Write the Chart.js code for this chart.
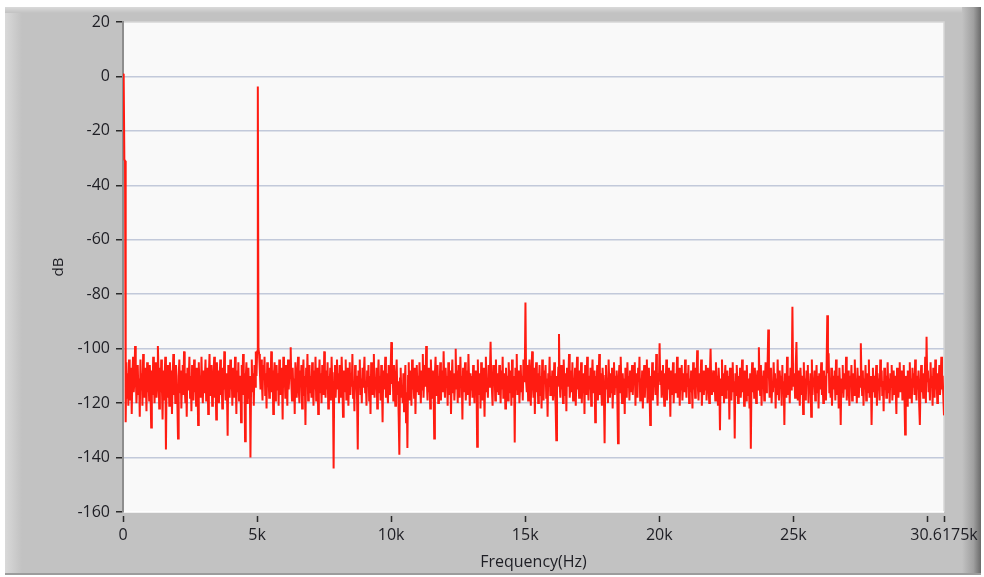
<!DOCTYPE html>
<html>
<head>
<meta charset="utf-8">
<script src="https://cdn.jsdelivr.net/npm/chart.js@4/dist/chart.umd.min.js"></script>
<style>
  html, body { margin: 0; padding: 0; background: #ffffff; }
  #wrap { position: relative; width: 984px; height: 577px; }
</style>
</head>
<body>
<div id="wrap"><canvas id="spectrum" width="984" height="577"></canvas></div>
<script>
// spectrum: span and bin spacing
const fMax = 30617.5;
const binCount = 1225;
const df = fMax / (binCount - 1);

// magnitude per bin, dB (40 bins per line = ~1 kHz)
const magnitudeDb = [
  1, 0.5, -30.5, -31, -127, -105, -118, -109, -121, -104, -113, -119, -107, -124, -110, -103, -116, -112, -99, -108, -120, -114, -106, -117, -111, -125, -104, -115, -109, -121, -102, -113, -118, -107, -112, -123, -105, -116, -110, -119,
  -106, -115, -129, -108, -117, -103, -112, -120, -110, -105, -118, -113, -99, -109, -122, -107, -116, -104, -114, -126, -108, -119, -111, -103, -137, -112, -106, -118, -110, -121, -105, -114, -108, -124, -111, -102, -117, -109, -120, -106,
  -113, -119, -133, -110, -104, -116, -108, -122, -112, -106, -117, -101, -114, -120, -109, -125, -107, -115, -111, -103, -118, -110, -123, -106, -113, -119, -104, -116, -109, -121, -107, -112, -128, -105, -115, -110, -118, -103, -114, -120,
  -108, -116, -111, -104, -119, -113, -107, -124, -110, -102, -117, -112, -106, -121, -115, -109, -103, -118, -111, -126, -105, -114, -108, -120, -112, -104, -117, -110, -122, -107, -115, -101, -113, -119, -109, -116, -132, -106, -112, -118,
  -104, -115, -109, -121, -107, -113, -118, -103, -111, -124, -108, -116, -105, -119, -112, -110, -127, -106, -114, -102, -117, -109, -134, -111, -105, -120, -113, -107, -118, -110, -140, -112, -104, -116, -109, -121, -106, -114, -101, -110,
  -101, -3.7, -100, -102, -108, -115, -104, -112, -119, -106, -111, -103, -117, -109, -122, -105, -114, -110, -118, -107, -113, -101, -116, -108, -124, -110, -105, -119, -112, -106, -115, -109, -121, -104, -113, -117, -107, -111, -126, -103,
  -114, -109, -118, -106, -112, -121, -104, -115, -110, -108, -99.5, -113, -119, -107, -116, -111, -124, -105, -112, -118, -109, -103, -115, -120, -108, -113, -106, -122, -111, -104, -117, -110, -128, -107, -114, -102, -119, -112, -106, -116,
  -110, -118, -105, -113, -121, -108, -115, -103, -119, -111, -107, -124, -112, -104, -116, -109, -120, -106, -113, -117, -101, -112, -118, -108, -115, -105, -122, -110, -114, -107, -119, -103, -113, -116, -144, -109, -106, -118, -111, -104,
  -115, -109, -120, -106, -113, -118, -103, -112, -125, -108, -116, -110, -104, -119, -113, -107, -121, -111, -105, -117, -109, -114, -102, -118, -112, -123, -106, -115, -110, -119, -137, -108, -113, -104, -117, -111, -120, -107, -114, -109,
  -103, -116, -112, -121, -108, -114, -106, -119, -110, -124, -105, -113, -117, -109, -102, -118, -111, -115, -107, -122, -112, -104, -116, -110, -119, -106, -113, -127, -108, -115, -111, -103, -118, -109, -114, -120, -106, -112, -117, -108,
  -97.6, -113, -108, -119, -106, -115, -121, -110, -104, -117, -112, -125, -139, -111, -107, -118, -114, -120, -109, -123, -113, -106, -127, -116, -136.5, -110, -105, -119, -113, -108, -121, -104, -115, -111, -118, -107, -124, -112, -106, -116,
  -110, -117, -105, -113, -120, -108, -115, -102, -118, -111, -106, -114, -99, -112, -119, -107, -116, -110, -122, -104, -113, -118, -108, -115, -133, -109, -103, -117, -112, -106, -120, -110, -114, -105, -119, -111, -108, -116, -101, -113,
  -118, -107, -114, -110, -121, -105, -112, -117, -108, -124, -111, -104, -116, -109, -119, -113, -100, -115, -108, -120, -106, -112, -118, -103, -114, -110, -126, -107, -116, -111, -105, -119, -113, -108, -117, -102, -112, -121, -109, -115,
  -110, -118, -106, -113, -120, -108, -115, -111, -136, -104, -117, -112, -109, -122, -105, -114, -119, -107, -113, -125, -110, -103, -116, -112, -118, -106, -114, -109, -97.5, -111, -115, -121, -106, -113, -108, -119, -104, -116, -111, -109,
  -117, -106, -113, -120, -108, -115, -103, -118, -111, -109, -122, -107, -114, -110, -119, -105, -112, -116, -108, -121, -104, -113, -118, -110, -134.5, -107, -115, -102, -117, -111, -108, -120, -113, -106, -116, -110, -119, -104, -112, -109,
  -83, -112, -116, -106, -119, -110, -104, -114, -121, -108, -101, -113, -118, -107, -124, -111, -105, -116, -109, -120, -113, -106, -117, -110, -122, -104, -115, -119, -108, -112, -106, -118, -111, -125, -109, -114, -103, -117, -110, -115,
  -108, -119, -112, -105, -116, -121, -133.6, -110, -114, -107, -94.6, -113, -118, -106, -115, -110, -120, -104, -112, -117, -109, -123, -107, -114, -111, -102, -118, -113, -108, -116, -105, -119, -111, -114, -107, -121, -110, -103, -115, -112,
  -118, -108, -114, -105, -120, -111, -116, -109, -124, -106, -113, -117, -103, -112, -119, -110, -115, -107, -121, -111, -104, -116, -113, -108, -127, -110, -114, -106, -119, -112, -102, -117, -109, -115, -121, -107, -112, -118, -134.7, -110,
  -106, -115, -111, -120, -104, -113, -118, -109, -116, -107, -122, -112, -105, -117, -110, -114, -108, -119, -134.7, -111, -106, -116, -103, -113, -120, -109, -115, -111, -124, -107, -113, -118, -105, -114, -110, -119, -108, -116, -112, -106,
  -117, -110, -113, -105, -121, -109, -115, -118, -107, -112, -103, -119, -111, -116, -108, -122, -113, -106, -118, -110, -114, -104, -120, -112, -107, -116, -128, -110, -115, -105, -119, -111, -113, -108, -117, -102, -114, -121, -109, -112,
  -98, -113, -108, -118, -111, -106, -116, -121, -109, -114, -104, -119, -112, -107, -115, -110, -125, -108, -117, -113, -105, -120, -111, -116, -109, -114, -103, -118, -112, -107, -121, -110, -115, -106, -119, -113, -109, -116, -104, -112,
  -118, -109, -114, -106, -120, -111, -116, -108, -113, -122, -105, -115, -110, -118, -107, -112, -100.6, -114, -119, -109, -116, -111, -104, -121, -113, -108, -117, -110, -115, -106, -119, -112, -107, -114, -120, -109, -100, -113, -117, -111,
  -108, -116, -112, -119, -105, -114, -110, -121, -107, -113, -130, -111, -117, -104, -115, -109, -120, -112, -106, -118, -113, -108, -115, -110, -126, -107, -114, -119, -111, -105, -116, -112, -133, -109, -117, -106, -113, -120, -110, -115,
  -107, -118, -112, -104, -116, -110, -121, -108, -114, -119, -106, -113, -117, -111, -122, -109, -136.8, -112, -105, -116, -110, -118, -107, -114, -120, -111, -108, -115, -99.5, -113, -117, -106, -121, -110, -114, -108, -119, -112, -105, -116,
  -111, -106, -93, -110, -118, -113, -107, -120, -112, -116, -105, -114, -109, -122, -111, -117, -104, -115, -119, -108, -113, -110, -121, -106, -116, -112, -128, -109, -114, -118, -103, -112, -117, -110, -120, -107, -115, -111, -84.6, -109,
  -114, -110, -118, -106, -97.6, -112, -119, -108, -115, -121, -107, -113, -117, -110, -124, -105, -116, -111, -119, -108, -113, -106, -120, -112, -115, -109, -125, -104, -117, -111, -114, -108, -119, -113, -106, -116, -110, -122, -109, -115,
  -111, -105, -117, -112, -120, -108, -114, -110, -119, -106, -87.7, -109, -101.7, -116, -113, -118, -107, -121, -112, -110, -115, -108, -119, -104, -114, -117, -110, -122, -107, -113, -128, -111, -116, -106, -118, -112, -109, -115, -103, -119,
  -112, -108, -116, -121, -110, -114, -106, -119, -113, -109, -117, -104, -115, -111, -120, -107, -113, -118, -110, -114, -98, -112, -117, -108, -121, -111, -115, -106, -119, -113, -109, -116, -104, -118, -112, -110, -128, -114, -107, -116,
  -110, -118, -113, -106, -121, -109, -115, -111, -119, -104, -114, -108, -117, -112, -123, -107, -115, -110, -118, -113, -105, -116, -111, -120, -109, -114, -106, -119, -112, -108, -117, -110, -115, -124, -107, -113, -118, -111, -105, -116,
  -112, -108, -119, -114, -106, -117, -131.5, -110, -115, -121, -108, -113, -118, -105, -116, -111, -120, -107, -114, -109, -117, -104, -112, -119, -110, -115, -108, -121, -128, -113, -106, -116, -111, -118, -109, -114, -103, -120, -95.6, -112,
  -108, -116, -111, -119, -105, -114, -110, -121, -107, -113, -118, -104, -115, -111, -120, -109, -113, -106, -117, -112, -103, -115, -110, -118, -124.5
];

// axis ticks
const xTickValues = [0, 5000, 10000, 15000, 20000, 25000, 30000, 30617.5];
const xTickLabels = ['0', '5k', '10k', '15k', '20k', '25k', '', '30.6175k'];
const yTickValues = [20, 0, -20, -40, -60, -80, -100, -120, -140, -160];

const points = magnitudeDb.map((v, i) => ({ x: i * df, y: v }));

const font = { family: "'Open Sans', 'Noto Sans', sans-serif", size: 16 };
const textColor = '#1e1e24';

// LabVIEW-ish grey panel + white plot area
const panelPlugin = {
  id: 'panel',
  beforeDraw(chart) {
    const { ctx, chartArea: a, width, height } = chart;
    ctx.save();
    ctx.fillStyle = '#ffffff';
    ctx.fillRect(0, 0, width, height);
    ctx.fillStyle = '#c2c2c2';
    ctx.fillRect(5, 7, 976, 568);
    // light strips top/left
    let g = ctx.createLinearGradient(5, 0, 22, 0);
    g.addColorStop(0, '#d9d9d9');
    g.addColorStop(1, '#c2c2c2');
    ctx.fillStyle = g;
    ctx.fillRect(5, 7, 17, 568);
    g = ctx.createLinearGradient(0, 7, 0, 13);
    g.addColorStop(0, '#dadada');
    g.addColorStop(1, '#c2c2c2');
    ctx.fillStyle = g;
    ctx.fillRect(5, 7, 976, 6);
    // dark edge on the right
    g = ctx.createLinearGradient(962, 0, 981, 0);
    g.addColorStop(0, '#c2c2c2');
    g.addColorStop(0.6, '#a0a0a0');
    g.addColorStop(1, '#6a6a6a');
    ctx.fillStyle = g;
    ctx.fillRect(962, 7, 19, 568);
    ctx.fillStyle = '#9c9c9c';
    ctx.fillRect(5, 573, 976, 2);
    // plot area
    ctx.fillStyle = '#f9f9f9';
    ctx.fillRect(a.left, a.top, a.right - a.left, a.bottom - a.top);
    ctx.strokeStyle = '#d6d6d6';
    ctx.lineWidth = 1.5;
    ctx.beginPath();
    ctx.moveTo(a.left, a.top);
    ctx.lineTo(a.right, a.top);
    ctx.lineTo(a.right, a.bottom);
    ctx.stroke();
    ctx.strokeStyle = '#ffffff';
    ctx.beginPath();
    ctx.moveTo(a.left, a.bottom);
    ctx.lineTo(a.right, a.bottom);
    ctx.stroke();
    ctx.restore();
  }
};

new Chart(document.getElementById('spectrum'), {
  type: 'line',
  data: {
    datasets: [{
      label: 'Spectrum',
      data: points,
      borderColor: 'rgb(255, 28, 18)',
      borderWidth: 2,
      pointRadius: 0,
      tension: 0,
      fill: false
    }]
  },
  options: {
    responsive: false,
    animation: false,
    events: [],
    layout: { padding: { left: 50, top: 22, right: 40, bottom: 5 } },
    plugins: {
      legend: { display: false },
      tooltip: { enabled: false }
    },
    scales: {
      x: {
        type: 'linear',
        min: 0,
        max: fMax,
        afterFit: s => { s.height = 60; },
        afterBuildTicks: s => { s.ticks = xTickValues.map(v => ({ value: v })); },
        ticks: {
          autoSkip: false,
          maxRotation: 0,
          padding: 4,
          color: textColor,
          font: font,
          callback: (v, i) => xTickLabels[i]
        },
        grid: {
          drawOnChartArea: false,
          drawTicks: true,
          tickLength: 10,
          tickColor: '#2a2a2a',
          tickWidth: 1.5,
          tickBorderDash: [0, 4, 6, 40]
        },
        border: { display: false },
        title: {
          display: true,
          text: 'Frequency(Hz)',
          color: textColor,
          font: font,
          padding: 0
        }
      },
      y: {
        min: -160,
        max: 20,
        afterFit: s => { s.width = 73; },
        afterBuildTicks: s => { s.ticks = yTickValues.map(v => ({ value: v })); },
        ticks: {
          autoSkip: false,
          padding: 4,
          color: textColor,
          font: font
        },
        grid: {
          color: c => (c.tick && (c.tick.value === 20 || c.tick.value === -160)) ? 'rgba(0,0,0,0)' : '#c2c9da',
          lineWidth: 1.5,
          tickLength: 9,
          tickColor: '#2a2a2a',
          tickWidth: 1.5,
          tickBorderDash: [0, 2, 7, 40]
        },
        border: { display: true, color: '#8e8e8e', width: 2 },
        title: {
          display: true,
          text: 'dB',
          color: textColor,
          font: { family: font.family, size: 15 },
          padding: 0
        }
      }
    }
  },
  plugins: [panelPlugin]
});
</script>
</body>
</html>
